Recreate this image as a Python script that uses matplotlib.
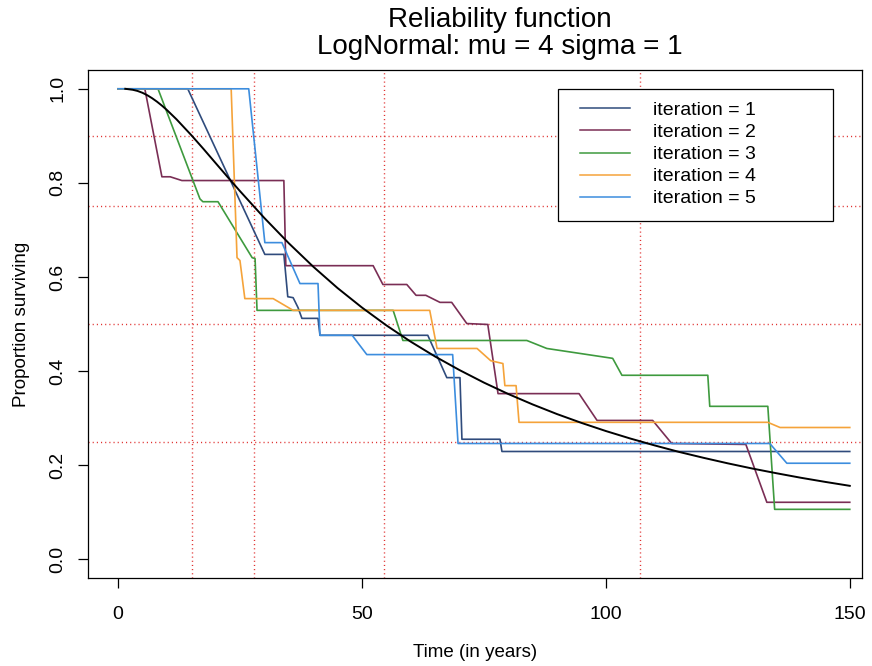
import numpy as np
import matplotlib.pyplot as plt
from matplotlib.patches import Rectangle

plt.rcParams['font.family'] = ['Liberation Sans', 'DejaVu Sans']
plt.rcParams['lines.scale_dashes'] = False

# lognormal reliability curve (mu = 4, sigma = 1)
t_fit = [1.5, 3, 4, 5, 6, 7, 8, 9, 10, 12, 15, 17.5, 20, 22.5, 25, 30, 35, 40, 45, 50,
         55, 60, 65, 70, 75, 80, 85, 90, 95, 100, 105, 110, 115, 120, 125, 130, 135, 140,
         145, 150]
s_fit = [1.0, 0.998, 0.9955, 0.9916, 0.9864, 0.980, 0.9726, 0.9643, 0.9552, 0.9351,
         0.9018, 0.8725, 0.8423, 0.8122, 0.7826, 0.7254, 0.6718, 0.6221, 0.5765, 0.5351,
         0.4972, 0.4625, 0.4309, 0.4021, 0.3755, 0.3512, 0.329, 0.3085, 0.2898, 0.2725,
         0.2566, 0.2419, 0.2281, 0.2156, 0.2038, 0.1928, 0.1827, 0.1731, 0.1643, 0.156]

# simulated survival curves, one per iteration
t1 = [0, 14.3, 30.1, 34.0, 34.8, 35.9, 36.9, 37.7, 41.0, 41.4, 63.5, 67.4, 70.1, 70.5, 78.3, 78.7, 150]
s1 = [1.0, 1.0, 0.648, 0.648, 0.558, 0.556, 0.535, 0.512, 0.512, 0.476, 0.476, 0.386, 0.386, 0.255, 0.255, 0.229, 0.229]

t2 = [0, 5.5, 9.0, 10.7, 13.1, 34.0, 34.4, 52.3, 54.3, 59.2, 61.1, 63.1, 66.0, 68.4, 71.5, 75.8,
      77.9, 94.5, 98.2, 109.6, 113.5, 128.7, 133.0, 150]
s2 = [1.0, 1.0, 0.813, 0.813, 0.805, 0.805, 0.624, 0.624, 0.584, 0.584, 0.561, 0.561, 0.546, 0.546,
      0.501, 0.499, 0.352, 0.352, 0.295, 0.295, 0.246, 0.244, 0.121, 0.121]

t3 = [0, 8.2, 16.8, 17.4, 20.5, 27.5, 28.1, 28.5, 56.4, 58.4, 83.8, 87.9, 101.4, 103.3, 120.9,
      121.3, 133.2, 134.6, 150]
s3 = [1.0, 1.0, 0.766, 0.760, 0.760, 0.641, 0.639, 0.529, 0.529, 0.465, 0.465, 0.448, 0.427,
      0.391, 0.391, 0.325, 0.325, 0.106, 0.106]

t4 = [0, 23.2, 24.4, 25.0, 26.0, 31.8, 35.9, 63.9, 65.4, 73.6, 76.4, 78.9, 79.3, 81.6, 82.2,
      133.2, 135.7, 150]
s4 = [1.0, 1.0, 0.641, 0.635, 0.554, 0.554, 0.529, 0.529, 0.448, 0.448, 0.422, 0.416, 0.369,
      0.369, 0.291, 0.291, 0.280, 0.280]

t5 = [0, 26.8, 30.1, 33.6, 37.3, 41.0, 41.4, 48.0, 51.0, 68.6, 69.7, 133.6, 137.1, 150]
s5 = [1.0, 1.0, 0.673, 0.673, 0.586, 0.586, 0.476, 0.476, 0.435, 0.435, 0.246, 0.246, 0.204, 0.204]

labels = ['iteration = 1', 'iteration = 2', 'iteration = 3', 'iteration = 4', 'iteration = 5']
colors = ['#2f4b7c', '#7a2e55', '#3e9a3e', '#f5a33a', '#3c8dde']

# reference lines: quantiles of the distribution
v_lines = [15.2, 27.8, 54.6, 107.1]
h_lines = [0.9, 0.75, 0.5, 0.25]

fig = plt.figure(figsize=(8.72, 6.66), dpi=100)
ax = fig.add_axes([0.1009, 0.1321, 0.8876, 0.7628])

for v in v_lines:
    ax.axvline(v, color='#e0302f', lw=1.0, ls=(0, (0.8, 2.2)), zorder=1)
for h in h_lines:
    ax.axhline(h, color='#e0302f', lw=1.0, ls=(0, (0.8, 2.2)), zorder=1)

series = [(t1, s1), (t2, s2), (t3, s3), (t4, s4), (t5, s5)]
for (t, s), c in zip(series, colors):
    ax.plot(t, s, color=c, lw=1.2, zorder=2)
ax.plot(t_fit, s_fit, color='black', lw=1.4, zorder=3)

ax.set_xlim(-6.15, 152.5)
ax.set_ylim(-0.04, 1.04)
ax.set_xticks([0, 50, 100, 150])
ax.set_xticklabels(['0', '50', '100', '150'])
ax.set_yticks([0, 0.2, 0.4, 0.6, 0.8, 1.0])
ax.set_yticklabels(['0.0', '0.2', '0.4', '0.6', '0.8', '1.0'], rotation=90, va='center')
ax.tick_params(direction='out', length=7.5, width=0.9, labelsize=14, pad=8, colors='black')
ax.tick_params(axis='x', pad=13)
for sp in ax.spines.values():
    sp.set_linewidth(0.9)

ax.set_xlabel('Time (in years)', fontsize=13.5, labelpad=15)
ax.set_ylabel('Proportion surviving', fontsize=13.5, labelpad=14)
fig.text(0.573, 0.99, 'Reliability function\nLogNormal: mu = 4 sigma = 1', fontsize=20,
         ha='center', va='top', linespacing=1.05)

# legend box, R style
ax.add_patch(Rectangle((0.6068, 0.7028), 0.3562, 0.2598, transform=ax.transAxes,
                       fill=True, facecolor='white', edgecolor='black', lw=0.9, zorder=5))
for i, (lab, c) in enumerate(zip(labels, colors)):
    y = 0.9245 - i * 0.0435
    ax.plot([0.6357, 0.7003], [y, y], color=c, lw=1.1, transform=ax.transAxes, zorder=6)
    ax.text(0.73, y - 0.004, lab, fontsize=14, va='center', ha='left', transform=ax.transAxes, zorder=6)

fig.savefig('out.png', dpi=100)
